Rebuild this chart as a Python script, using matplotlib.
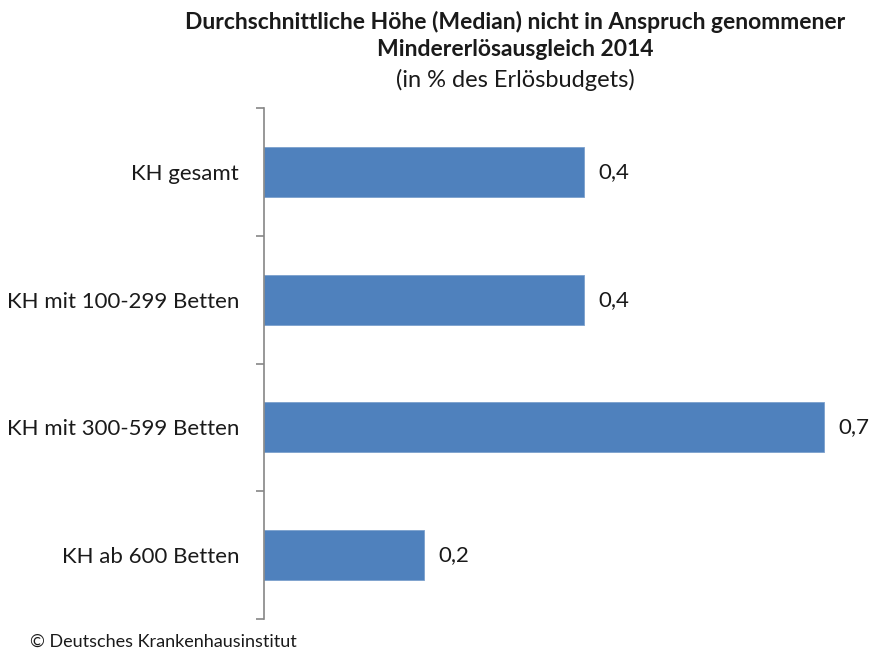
import matplotlib.pyplot as plt
import numpy as np

categories = ["KH gesamt", "KH mit 100-299 Betten", "KH mit 300-599 Betten", "KH ab 600 Betten"]
values = [0.4, 0.4, 0.7, 0.2]
value_labels = ["0,4", "0,4", "0,7", "0,2"]

plt.rcParams["font.family"] = ["Lato", "DejaVu Sans"]

fig = plt.figure(figsize=(8.77, 6.52), dpi=100)
W, H = 877, 652
left, right = 264, 864
top, bottom = 108, 619
ax = fig.add_axes([left / W, 1 - bottom / H, (right - left) / W, (bottom - top) / H])

y = np.arange(len(categories))
ax.barh(y, values, height=0.39, color="#4F81BD", edgecolor="#7BA0CD", linewidth=0.6)
ax.set_ylim(len(categories) - 0.5, -0.5)
ax.set_xlim(0, (right - left) / 800)

for yi, v, lab in zip(y, values, value_labels):
    ax.text(v + 0.018, yi, lab, va="center", ha="left", fontsize=16, color="#1a1a1a")

ax.set_yticks(y)
ax.set_yticklabels(categories, fontsize=16, color="#1a1a1a")
ax.set_yticks(np.arange(len(categories) + 1) - 0.5, minor=True)
ax.tick_params(axis="y", which="major", length=0, pad=18)
ax.tick_params(axis="y", which="minor", length=6, width=1.2, color="#868686")
ax.set_xticks([])
for s in ["top", "right", "bottom"]:
    ax.spines[s].set_visible(False)
ax.spines["left"].set_color("#868686")
ax.spines["left"].set_linewidth(1.2)

fig.text(515 / W, 1 - 22 / H, "Durchschnittliche Höhe (Median) nicht in Anspruch genommener",
         ha="center", va="center", fontsize=16.5, fontweight="bold", color="#1a1a1a")
fig.text(515 / W, 1 - 50 / H, "Mindererlösausgleich 2014",
         ha="center", va="center", fontsize=16.5, fontweight="bold", color="#1a1a1a")
fig.text(515 / W, 1 - 80 / H, "(in % des Erlösbudgets)",
         ha="center", va="center", fontsize=17, color="#1a1a1a")
fig.text(30 / W, 1 - 642 / H, "© Deutsches Krankenhausinstitut",
         ha="left", va="center", fontsize=13, color="#1a1a1a")

fig.savefig("out.png", dpi=100)
